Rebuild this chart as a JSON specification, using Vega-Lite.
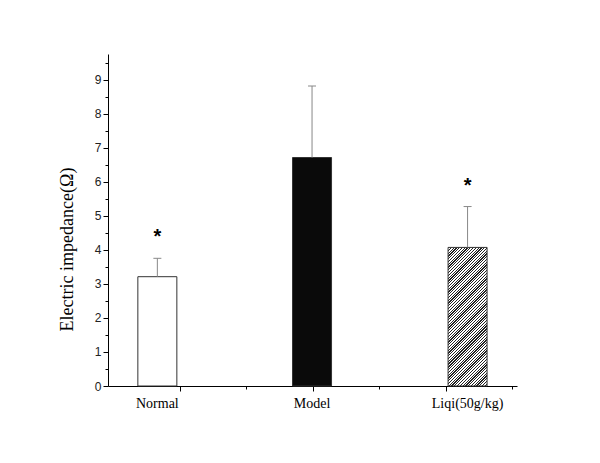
{
  "$schema": "https://vega.github.io/schema/vega-lite/v6.json",
  "width": 409,
  "height": 332,
  "autosize": "none",
  "padding": {"left": 108, "top": 54, "right": 83, "bottom": 77},
  "background": "white",
  "config": {"view": {"stroke": null}},
  "data": {"values": [
    {"group": "Normal", "pos": 0.667, "mean": 3.21, "upper": 3.75, "sig": "*"},
    {"group": "Model", "pos": 2.993, "mean": 6.71, "upper": 8.81, "sig": ""},
    {"group": "Liqi(50g/kg)", "pos": 5.332, "mean": 4.07, "upper": 5.27, "sig": "*"}
  ]},
  "resolve": {"axis": {"x": "independent", "y": "independent"}},
  "layer": [
    {
      "transform": [{"filter": "datum.group === 'Normal'"}],
      "mark": {"type": "bar", "size": 39, "fill": "white", "stroke": "#333", "strokeWidth": 1},
      "encoding": {
        "x": {"field": "pos", "type": "quantitative", "scale": {"domain": [0, 6], "nice": false, "zero": false},
          "axis": {"orient": "bottom", "values": [1, 3, 5], "labels": false, "tickSize": 5, "tickColor": "black", "domainColor": "black", "title": null, "grid": false}},
        "y": {"field": "mean", "type": "quantitative", "scale": {"domain": [0, 9.75], "nice": false},
          "axis": {"orient": "left", "values": [0, 1, 2, 3, 4, 5, 6, 7, 8, 9], "tickSize": 5, "tickColor": "black", "domainColor": "black", "grid": false,
            "labelFont": "Liberation Sans", "labelFontSize": 12, "labelColor": "#222", "labelPadding": 2,
            "title": "Electric impedance(Ω)", "titleFont": "Liberation Serif", "titleFontSize": 18, "titleFontWeight": "normal", "titleColor": "black",
            "titleX": -32, "titleY": 195, "titleAngle": -90, "titleAlign": "center", "titleBaseline": "bottom"}}
      }
    },
    {
      "transform": [{"filter": "datum.group === 'Model'"}],
      "mark": {"type": "bar", "size": 39, "fill": "#0a0a0a", "stroke": "#333", "strokeWidth": 1},
      "encoding": {
        "x": {"field": "pos", "type": "quantitative", "axis": null},
        "y": {"field": "mean", "type": "quantitative", "axis": null}
      }
    },
    {
      "transform": [{"filter": "datum.group === 'Liqi(50g/kg)'"}],
      "mark": {"type": "bar", "size": 39, "stroke": "#333", "strokeWidth": 1,
        "fill": {"gradient": "linear", "x1": 0, "y1": 0, "x2": 0.334, "y2": 1.187, "stops": [
{"offset":0,"color":"#222"},{"offset":0.007,"color":"#222"},{"offset":0.007,"color":"#fff"},{"offset":0.015625,"color":"#fff"},
{"offset":0.015625,"color":"#222"},{"offset":0.022625,"color":"#222"},{"offset":0.022625,"color":"#fff"},{"offset":0.03125,"color":"#fff"},
{"offset":0.03125,"color":"#222"},{"offset":0.03825,"color":"#222"},{"offset":0.03825,"color":"#fff"},{"offset":0.046875,"color":"#fff"},
{"offset":0.046875,"color":"#222"},{"offset":0.053875,"color":"#222"},{"offset":0.053875,"color":"#fff"},{"offset":0.0625,"color":"#fff"},
{"offset":0.0625,"color":"#222"},{"offset":0.0695,"color":"#222"},{"offset":0.0695,"color":"#fff"},{"offset":0.078125,"color":"#fff"},
{"offset":0.078125,"color":"#222"},{"offset":0.085125,"color":"#222"},{"offset":0.085125,"color":"#fff"},{"offset":0.09375,"color":"#fff"},
{"offset":0.09375,"color":"#222"},{"offset":0.10075,"color":"#222"},{"offset":0.10075,"color":"#fff"},{"offset":0.109375,"color":"#fff"},
{"offset":0.109375,"color":"#222"},{"offset":0.116375,"color":"#222"},{"offset":0.116375,"color":"#fff"},{"offset":0.125,"color":"#fff"},
{"offset":0.125,"color":"#222"},{"offset":0.132,"color":"#222"},{"offset":0.132,"color":"#fff"},{"offset":0.140625,"color":"#fff"},
{"offset":0.140625,"color":"#222"},{"offset":0.147625,"color":"#222"},{"offset":0.147625,"color":"#fff"},{"offset":0.15625,"color":"#fff"},
{"offset":0.15625,"color":"#222"},{"offset":0.16325,"color":"#222"},{"offset":0.16325,"color":"#fff"},{"offset":0.171875,"color":"#fff"},
{"offset":0.171875,"color":"#222"},{"offset":0.178875,"color":"#222"},{"offset":0.178875,"color":"#fff"},{"offset":0.1875,"color":"#fff"},
{"offset":0.1875,"color":"#222"},{"offset":0.1945,"color":"#222"},{"offset":0.1945,"color":"#fff"},{"offset":0.203125,"color":"#fff"},
{"offset":0.203125,"color":"#222"},{"offset":0.210125,"color":"#222"},{"offset":0.210125,"color":"#fff"},{"offset":0.21875,"color":"#fff"},
{"offset":0.21875,"color":"#222"},{"offset":0.22575,"color":"#222"},{"offset":0.22575,"color":"#fff"},{"offset":0.234375,"color":"#fff"},
{"offset":0.234375,"color":"#222"},{"offset":0.241375,"color":"#222"},{"offset":0.241375,"color":"#fff"},{"offset":0.25,"color":"#fff"},
{"offset":0.25,"color":"#222"},{"offset":0.257,"color":"#222"},{"offset":0.257,"color":"#fff"},{"offset":0.265625,"color":"#fff"},
{"offset":0.265625,"color":"#222"},{"offset":0.272625,"color":"#222"},{"offset":0.272625,"color":"#fff"},{"offset":0.28125,"color":"#fff"},
{"offset":0.28125,"color":"#222"},{"offset":0.28825,"color":"#222"},{"offset":0.28825,"color":"#fff"},{"offset":0.296875,"color":"#fff"},
{"offset":0.296875,"color":"#222"},{"offset":0.303875,"color":"#222"},{"offset":0.303875,"color":"#fff"},{"offset":0.3125,"color":"#fff"},
{"offset":0.3125,"color":"#222"},{"offset":0.3195,"color":"#222"},{"offset":0.3195,"color":"#fff"},{"offset":0.328125,"color":"#fff"},
{"offset":0.328125,"color":"#222"},{"offset":0.335125,"color":"#222"},{"offset":0.335125,"color":"#fff"},{"offset":0.34375,"color":"#fff"},
{"offset":0.34375,"color":"#222"},{"offset":0.35075,"color":"#222"},{"offset":0.35075,"color":"#fff"},{"offset":0.359375,"color":"#fff"},
{"offset":0.359375,"color":"#222"},{"offset":0.366375,"color":"#222"},{"offset":0.366375,"color":"#fff"},{"offset":0.375,"color":"#fff"},
{"offset":0.375,"color":"#222"},{"offset":0.382,"color":"#222"},{"offset":0.382,"color":"#fff"},{"offset":0.390625,"color":"#fff"},
{"offset":0.390625,"color":"#222"},{"offset":0.397625,"color":"#222"},{"offset":0.397625,"color":"#fff"},{"offset":0.40625,"color":"#fff"},
{"offset":0.40625,"color":"#222"},{"offset":0.41325,"color":"#222"},{"offset":0.41325,"color":"#fff"},{"offset":0.421875,"color":"#fff"},
{"offset":0.421875,"color":"#222"},{"offset":0.428875,"color":"#222"},{"offset":0.428875,"color":"#fff"},{"offset":0.4375,"color":"#fff"},
{"offset":0.4375,"color":"#222"},{"offset":0.4445,"color":"#222"},{"offset":0.4445,"color":"#fff"},{"offset":0.453125,"color":"#fff"},
{"offset":0.453125,"color":"#222"},{"offset":0.460125,"color":"#222"},{"offset":0.460125,"color":"#fff"},{"offset":0.46875,"color":"#fff"},
{"offset":0.46875,"color":"#222"},{"offset":0.47575,"color":"#222"},{"offset":0.47575,"color":"#fff"},{"offset":0.484375,"color":"#fff"},
{"offset":0.484375,"color":"#222"},{"offset":0.491375,"color":"#222"},{"offset":0.491375,"color":"#fff"},{"offset":0.5,"color":"#fff"},
{"offset":0.5,"color":"#222"},{"offset":0.507,"color":"#222"},{"offset":0.507,"color":"#fff"},{"offset":0.515625,"color":"#fff"},
{"offset":0.515625,"color":"#222"},{"offset":0.522625,"color":"#222"},{"offset":0.522625,"color":"#fff"},{"offset":0.53125,"color":"#fff"},
{"offset":0.53125,"color":"#222"},{"offset":0.53825,"color":"#222"},{"offset":0.53825,"color":"#fff"},{"offset":0.546875,"color":"#fff"},
{"offset":0.546875,"color":"#222"},{"offset":0.553875,"color":"#222"},{"offset":0.553875,"color":"#fff"},{"offset":0.5625,"color":"#fff"},
{"offset":0.5625,"color":"#222"},{"offset":0.5695,"color":"#222"},{"offset":0.5695,"color":"#fff"},{"offset":0.578125,"color":"#fff"},
{"offset":0.578125,"color":"#222"},{"offset":0.585125,"color":"#222"},{"offset":0.585125,"color":"#fff"},{"offset":0.59375,"color":"#fff"},
{"offset":0.59375,"color":"#222"},{"offset":0.60075,"color":"#222"},{"offset":0.60075,"color":"#fff"},{"offset":0.609375,"color":"#fff"},
{"offset":0.609375,"color":"#222"},{"offset":0.616375,"color":"#222"},{"offset":0.616375,"color":"#fff"},{"offset":0.625,"color":"#fff"},
{"offset":0.625,"color":"#222"},{"offset":0.632,"color":"#222"},{"offset":0.632,"color":"#fff"},{"offset":0.640625,"color":"#fff"},
{"offset":0.640625,"color":"#222"},{"offset":0.647625,"color":"#222"},{"offset":0.647625,"color":"#fff"},{"offset":0.65625,"color":"#fff"},
{"offset":0.65625,"color":"#222"},{"offset":0.66325,"color":"#222"},{"offset":0.66325,"color":"#fff"},{"offset":0.671875,"color":"#fff"},
{"offset":0.671875,"color":"#222"},{"offset":0.678875,"color":"#222"},{"offset":0.678875,"color":"#fff"},{"offset":0.6875,"color":"#fff"},
{"offset":0.6875,"color":"#222"},{"offset":0.6945,"color":"#222"},{"offset":0.6945,"color":"#fff"},{"offset":0.703125,"color":"#fff"},
{"offset":0.703125,"color":"#222"},{"offset":0.710125,"color":"#222"},{"offset":0.710125,"color":"#fff"},{"offset":0.71875,"color":"#fff"},
{"offset":0.71875,"color":"#222"},{"offset":0.72575,"color":"#222"},{"offset":0.72575,"color":"#fff"},{"offset":0.734375,"color":"#fff"},
{"offset":0.734375,"color":"#222"},{"offset":0.741375,"color":"#222"},{"offset":0.741375,"color":"#fff"},{"offset":0.75,"color":"#fff"},
{"offset":0.75,"color":"#222"},{"offset":0.757,"color":"#222"},{"offset":0.757,"color":"#fff"},{"offset":0.765625,"color":"#fff"},
{"offset":0.765625,"color":"#222"},{"offset":0.772625,"color":"#222"},{"offset":0.772625,"color":"#fff"},{"offset":0.78125,"color":"#fff"},
{"offset":0.78125,"color":"#222"},{"offset":0.78825,"color":"#222"},{"offset":0.78825,"color":"#fff"},{"offset":0.796875,"color":"#fff"},
{"offset":0.796875,"color":"#222"},{"offset":0.803875,"color":"#222"},{"offset":0.803875,"color":"#fff"},{"offset":0.8125,"color":"#fff"},
{"offset":0.8125,"color":"#222"},{"offset":0.8195,"color":"#222"},{"offset":0.8195,"color":"#fff"},{"offset":0.828125,"color":"#fff"},
{"offset":0.828125,"color":"#222"},{"offset":0.835125,"color":"#222"},{"offset":0.835125,"color":"#fff"},{"offset":0.84375,"color":"#fff"},
{"offset":0.84375,"color":"#222"},{"offset":0.85075,"color":"#222"},{"offset":0.85075,"color":"#fff"},{"offset":0.859375,"color":"#fff"},
{"offset":0.859375,"color":"#222"},{"offset":0.866375,"color":"#222"},{"offset":0.866375,"color":"#fff"},{"offset":0.875,"color":"#fff"},
{"offset":0.875,"color":"#222"},{"offset":0.882,"color":"#222"},{"offset":0.882,"color":"#fff"},{"offset":0.890625,"color":"#fff"},
{"offset":0.890625,"color":"#222"},{"offset":0.897625,"color":"#222"},{"offset":0.897625,"color":"#fff"},{"offset":0.90625,"color":"#fff"},
{"offset":0.90625,"color":"#222"},{"offset":0.91325,"color":"#222"},{"offset":0.91325,"color":"#fff"},{"offset":0.921875,"color":"#fff"},
{"offset":0.921875,"color":"#222"},{"offset":0.928875,"color":"#222"},{"offset":0.928875,"color":"#fff"},{"offset":0.9375,"color":"#fff"},
{"offset":0.9375,"color":"#222"},{"offset":0.9445,"color":"#222"},{"offset":0.9445,"color":"#fff"},{"offset":0.953125,"color":"#fff"},
{"offset":0.953125,"color":"#222"},{"offset":0.960125,"color":"#222"},{"offset":0.960125,"color":"#fff"},{"offset":0.96875,"color":"#fff"},
{"offset":0.96875,"color":"#222"},{"offset":0.97575,"color":"#222"},{"offset":0.97575,"color":"#fff"},{"offset":0.984375,"color":"#fff"},
{"offset":0.984375,"color":"#222"},{"offset":0.991375,"color":"#222"},{"offset":0.991375,"color":"#fff"},{"offset":1,"color":"#fff"}
        ]}},
      "encoding": {
        "x": {"field": "pos", "type": "quantitative", "axis": null},
        "y": {"field": "mean", "type": "quantitative", "axis": null}
      }
    },
    {
      "mark": {"type": "rule", "color": "#888", "strokeWidth": 1},
      "encoding": {
        "x": {"field": "pos", "type": "quantitative", "axis": null},
        "y": {"field": "mean", "type": "quantitative", "axis": null},
        "y2": {"field": "upper"}
      }
    },
    {
      "mark": {"type": "tick", "orient": "horizontal", "size": 8, "thickness": 1, "color": "#888", "opacity": 1},
      "encoding": {
        "x": {"field": "pos", "type": "quantitative",
          "axis": {"orient": "bottom", "values": [2, 4, 6], "labels": false, "tickSize": 3, "tickColor": "black", "domain": false, "title": null, "grid": false}},
        "y": {"field": "upper", "type": "quantitative",
          "axis": {"orient": "left", "values": [0.5, 1.5, 2.5, 3.5, 4.5, 5.5, 6.5, 7.5, 8.5, 9.5], "labels": false, "tickSize": 3, "tickColor": "black", "domain": false, "title": null, "grid": false}}
      }
    },
    {
      "mark": {"type": "text", "font": "Liberation Sans", "fontWeight": "bold", "fontSize": 20, "color": "black", "baseline": "middle", "dy": -21},
      "encoding": {
        "x": {"field": "pos", "type": "quantitative", "axis": null},
        "y": {"field": "upper", "type": "quantitative", "axis": null},
        "text": {"field": "sig"}
      }
    },
    {
      "mark": {"type": "text", "font": "Liberation Serif", "fontSize": 14, "color": "black", "baseline": "middle", "dy": 18},
      "encoding": {
        "x": {"field": "pos", "type": "quantitative", "axis": null},
        "y": {"datum": 0, "type": "quantitative", "axis": null},
        "text": {"field": "group"}
      }
    }
  ]
}
